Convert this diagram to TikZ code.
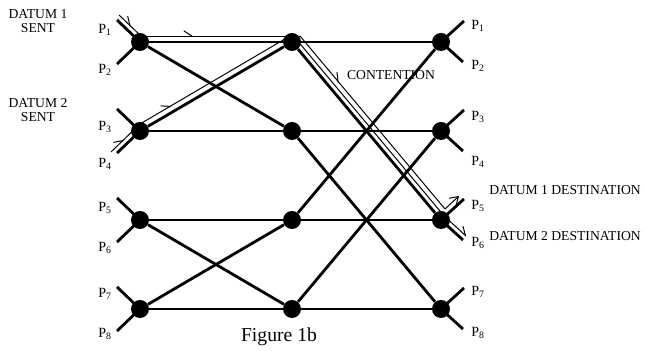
\documentclass[tikz,border=0pt]{standalone}
\usepackage{fontspec}
\setmainfont{Liberation Serif}
\usetikzlibrary{arrows.meta,decorations.markings}
\tikzset{
  dot/.style={circle, fill=black, inner sep=0pt, minimum size=4.5mm},
  link/.style={line width=2pt},
  wall/.style={line width=0.7pt},
  barb/.style={postaction={decorate, decoration={markings,
      mark=at position #1 with {\arrow{Straight Barb[harpoon, length=2mm, width=2.6mm]}}}}},
  pin/.style={font=\fontsize{10}{11}\selectfont, inner sep=0pt},
  txt/.style={font=\fontsize{9.7}{10}\selectfont, inner sep=0pt, align=center},
}
\begin{document}
\begin{tikzpicture}[x=0.25mm, y=-0.25mm]
  \useasboundingbox (0,0) rectangle (645,351);
  % switch nodes, three stages
  \foreach \y [count=\i] in {42,131,220,309} {
    \node[dot] (a\i) at (140,\y) {};
    \node[dot] (b\i) at (292,\y) {};
    \node[dot] (c\i) at (441,\y) {};
  }
  % straight links
  \foreach \i in {1,...,4} {
    \draw[link] (a\i) -- (b\i);
    \draw[link] (b\i) -- (c\i);
  }
  % crossed links
  \draw[link] (a1) -- (b2);
  \draw[link] (a2) -- (b1);
  \draw[link] (a3) -- (b4);
  \draw[link] (a4) -- (b3);
  \draw[link] (b1) -- (c3);
  \draw[link] (b3) -- (c1);
  \draw[link] (b2) -- (c4);
  \draw[link] (b4) -- (c2);
  % port stubs
  \foreach \i in {1,...,4} {
    \draw[link] (a\i.center) -- ++(-23,-22);
    \draw[link] (a\i.center) -- ++(-23,22);
    \draw[link] (c\i.center) -- ++(23,-21);
    \draw[link] (c\i.center) -- ++(22,20);
  }
  % port labels
  \foreach \y [count=\i] in {30,70,127,164,208,248,294,334}
    \node[pin] (pl\i) at (105,\y) {P\textsubscript{\i}};
  \foreach \y [count=\i] in {26,66,117,162,206,243,292,333}
    \node[pin] (pr\i) at (478,\y) {P\textsubscript{\i}};
  % datum 1 channel
  \coordinate (d1s) at (119,15);
  \coordinate (d1a) at (141,36);
  \coordinate (d1b) at (300,36);
  \coordinate (d1c) at (445,209);
  \coordinate (d1e) at (459,196);
  \draw[wall, barb=0.55] (d1s) -- (d1a);
  \draw[wall, barb=0.33] (d1a) -- (d1b);
  \draw[wall, barb=0.27] (d1b) -- (d1c);
  \draw[wall, -{Straight Barb[length=2mm, width=2.6mm]}] (d1c) -- (d1e);
  % datum 2 channel
  \coordinate (d2s) at (111,152);
  \coordinate (d2a) at (140,124);
  \coordinate (d2b) at (290,36);
  \coordinate (d2c) at (296,39);
  \coordinate (d2d) at (444.4,216.3);
  \coordinate (d2e) at (466.6,236.5);
  \draw[wall, barb=0.45] (d2s) -- (d2a);
  \draw[wall, barb=0.21] (d2a) -- (d2b);
  \draw[wall] (d2c) -- (d2d);
  \draw[wall, -{Straight Barb[harpoon, length=2mm, width=2.6mm]}] (d2d) -- (d2e);
  % texts
  \node[txt] (sent1) at (38,21) {DATUM 1\\SENT};
  \node[txt] (sent2) at (38,110) {DATUM 2\\SENT};
  \node[txt] (cont) at (391,75) {CONTENTION};
  \node[txt, anchor=west] (dest1) at (489,190) {DATUM 1 DESTINATION};
  \node[txt, anchor=west] (dest2) at (489,236) {DATUM 2 DESTINATION};
  \node[font=\fontsize{14}{16}\selectfont, inner sep=0pt] (cap) at (279,337) {Figure 1b};
\end{tikzpicture}
\end{document}
